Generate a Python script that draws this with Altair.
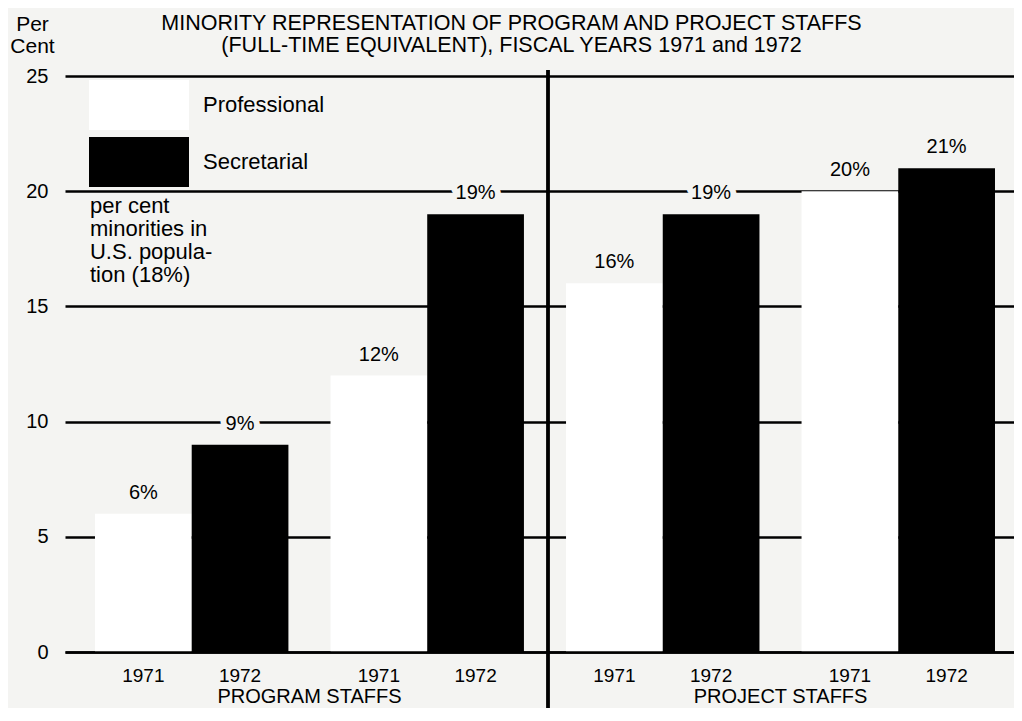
import altair as alt
import pandas as pd

# ---------------- data ----------------
pairs = ["PROGRAM-1", "PROGRAM-2", "PROJECT-1", "PROJECT-2"]
years = ["1971", "1972"]
values_1971 = [6, 12, 16, 20]
values_1972 = [9, 19, 19, 21]
labels_1971 = ["6%", "12%", "16%", "20%"]
labels_1972 = ["9%", "19%", "19%", "21%"]
group_names = ["PROGRAM STAFFS", "PROJECT STAFFS"]
group_anchor = ["PROGRAM-2", "PROJECT-2"]
legend_names = ["Professional", "Secretarial"]
y_ticks = [0, 5, 10, 15, 20, 25]
title_lines = [
    "MINORITY REPRESENTATION OF PROGRAM AND PROJECT STAFFS",
    "(FULL-TIME EQUIVALENT), FISCAL YEARS 1971 and 1972",
]
y_title = ["Per", "Cent"]
note_lines = ["per cent", "minorities in", "U.S. popula-", "tion (18%)"]
note_anchor_pair = "PROGRAM-1"
note_anchor_value = 20

# ---------------- styling ----------------
FONT = "Liberation Sans"
BG = "#f4f4f2"
W, H = 949, 576
TOP = 68

rows = []
for p, v1, v2, l1, l2 in zip(pairs, values_1971, values_1972, labels_1971, labels_1972):
    rows.append({"pair": p, "year": years[0], "value": v1, "label": l1})
    rows.append({"pair": p, "year": years[1], "value": v2, "label": l2})
df = pd.DataFrame(rows)

groups_df = pd.DataFrame({"pair": group_anchor, "name": group_names})
note_df = pd.DataFrame({"pair": [note_anchor_pair], "value": [note_anchor_value],
                        "note": [note_lines]})
title_df = pd.DataFrame({"t": [title_lines]})

x_scale = alt.Scale(domain=pairs, paddingInner=0.1787, paddingOuter=0.104, align=0.612)
y_scale = alt.Scale(domain=[0, 25], nice=False)

x_enc = alt.X("pair:N", scale=x_scale,
              axis=alt.Axis(labels=False, ticks=False, title=None, domain=True,
                            domainColor="black", domainWidth=2.5, grid=False, zindex=1))
xoff_enc = alt.XOffset("year:N", scale=alt.Scale(domain=years, paddingInner=0, paddingOuter=0))
y_enc = alt.Y("value:Q", scale=y_scale,
              axis=alt.Axis(values=y_ticks, grid=True, gridColor="black", gridWidth=2.5,
                            gridOpacity=1, ticks=False, domain=False,
                            labelFontSize=20, labelFont=FONT, labelColor="black",
                            labelPadding=17,
                            title=y_title, titleAngle=0, titleX=-33, titleY=-46,
                            titleAlign="center", titleBaseline="alphabetic",
                            titleFontSize=21, titleFont=FONT, titleFontWeight="normal",
                            titleColor="black", titleLineHeight=22))

bars = alt.Chart(df).mark_bar(strokeWidth=0).encode(
    x=x_enc,
    xOffset=xoff_enc,
    y=y_enc,
    color=alt.Color("year:N", scale=alt.Scale(domain=years, range=["white", "black"]),
                    legend=alt.Legend(orient="none", legendX=49, legendY=4, title=None,
                                      symbolType="M-2,-1H2V1H-2Z", symbolSize=2500,
                                      symbolStrokeWidth=0, symbolOpacity=1,
                                      labelExpr="datum.label == '1971' ? '%s' : '%s'" % tuple(legend_names),
                                      labelFontSize=22, labelFont=FONT, labelColor="black",
                                      labelOffset=39, rowPadding=7, padding=0, labelLimit=0)),
)

halo = alt.Chart(df).mark_text(dy=-15, baseline="alphabetic", fontSize=20, font=FONT,
                               fill=BG, stroke=BG, strokeWidth=12, strokeJoin="round").encode(
    x=alt.X("pair:N", scale=x_scale), xOffset=xoff_enc, y=alt.Y("value:Q", scale=y_scale),
    text="label:N")

pct = alt.Chart(df).mark_text(dy=-15, baseline="alphabetic", fontSize=20, font=FONT,
                              color="black").encode(
    x=alt.X("pair:N", scale=x_scale), xOffset=xoff_enc, y=alt.Y("value:Q", scale=y_scale),
    text="label:N")

year_lbl = alt.Chart(df).mark_text(baseline="alphabetic", fontSize=19, font=FONT,
                                   color="black").encode(
    x=alt.X("pair:N", scale=x_scale), xOffset=xoff_enc, y=alt.value(H + 30),
    text="year:N")

group_lbl = alt.Chart(groups_df).mark_text(baseline="alphabetic", fontSize=20, font=FONT,
                                           color="black", dx=-21).encode(
    x=alt.X("pair:N", scale=x_scale, bandPosition=0), y=alt.value(H + 51),
    text="name:N")

note = alt.Chart(note_df).mark_text(align="left", baseline="alphabetic", fontSize=22,
                                    font=FONT, color="black", lineHeight=23,
                                    dx=-5, dy=22).encode(
    x=alt.X("pair:N", scale=x_scale, bandPosition=0),
    y=alt.Y("value:Q", scale=y_scale),
    text="note")

title = alt.Chart(title_df).mark_text(align="center", baseline="alphabetic", fontSize=21.5,
                                      font=FONT, color="black", lineHeight=22).encode(
    x=alt.value(W / 2 - 28), y=alt.value(-46), text="t")

divider = alt.Chart(df).mark_rule(color="black", strokeWidth=2.5).encode(
    x=alt.value(483), y=alt.value(-6), y2=alt.value(H + 62))

chart = alt.layer(bars, halo, pct, year_lbl, group_lbl, note, title, divider).properties(
    width=W, height=H,
    background=BG,
    padding={"left": 57, "top": TOP, "right": 0, "bottom": 56},
    autosize=alt.AutoSizeParams(type="none"),
).configure_view(stroke=None)

chart.save("out.html", embed_options={"renderer": "svg", "actions": False})
